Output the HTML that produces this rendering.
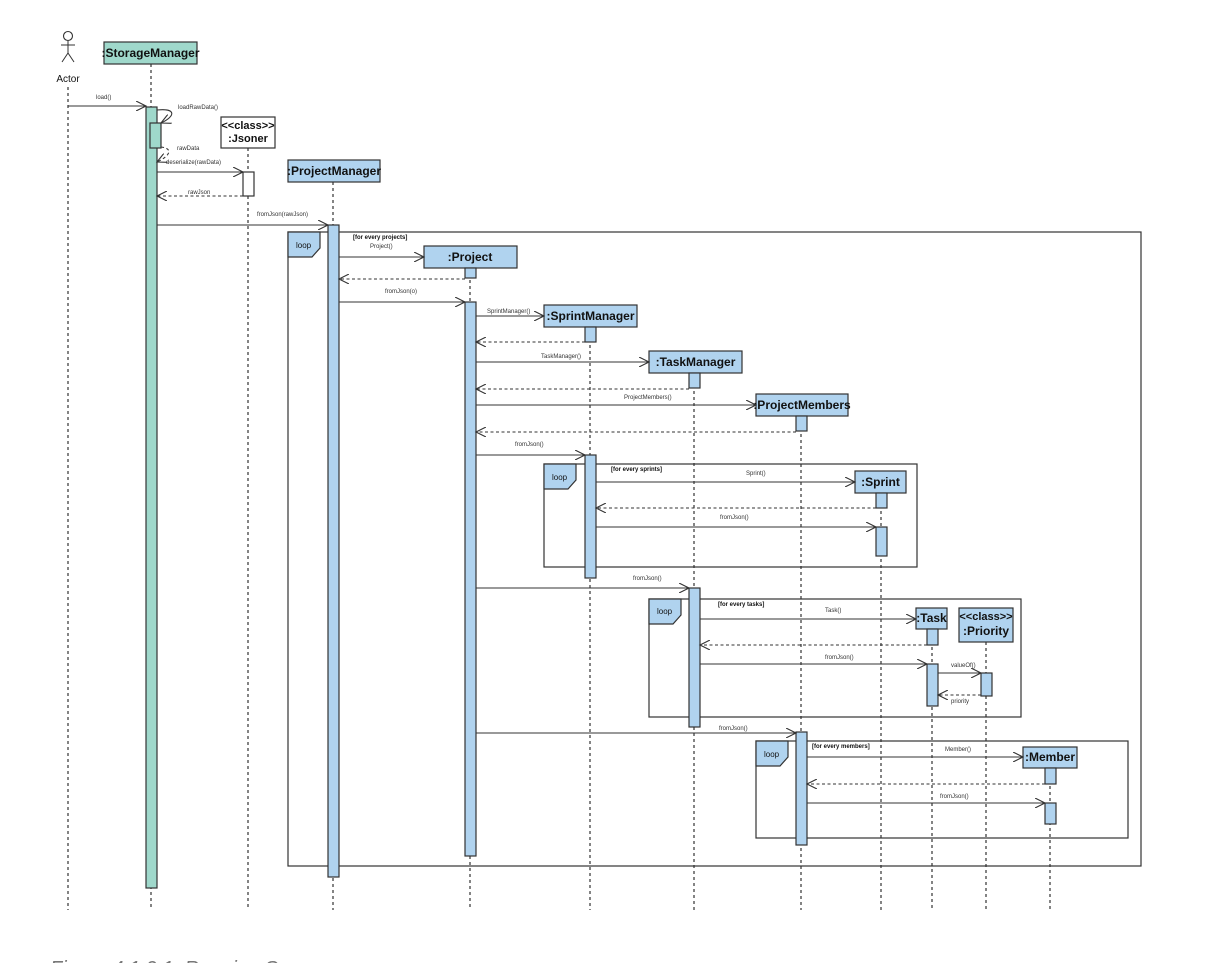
<!DOCTYPE html>
<html><head><meta charset="utf-8"><style>
html,body{margin:0;padding:0;background:#fff;overflow:hidden}
svg{display:block}
text{font-family:"Liberation Sans",Arial,sans-serif;fill:#111}
.t{font-size:6px;fill:#333}
.g{font-size:6px;font-weight:bold}
.h{font-size:12px;font-weight:bold;text-anchor:middle}
.ll{stroke:#333;stroke-width:1.2;stroke-dasharray:3,3;fill:none}
.m{stroke:#333;stroke-width:1.1;fill:none;marker-end:url(#a)}
.r{stroke:#333;stroke-width:1.1;fill:none;stroke-dasharray:3,2.5;marker-end:url(#a)}
.b{fill:#b0d3ef;stroke:#333;stroke-width:1.2}
.gr{fill:#9fd8cb;stroke:#333;stroke-width:1.2}
.f{fill:none;stroke:#333;stroke-width:1.2}
</style></head><body>
<svg width="1210" height="963" viewBox="0 0 1210 963" xmlns="http://www.w3.org/2000/svg">
<defs><marker id="a" markerWidth="12" markerHeight="10" refX="10" refY="5" orient="auto" markerUnits="userSpaceOnUse"><path d="M0,0 L10,5 L0,10" fill="none" stroke="#333" stroke-width="1.1"/></marker></defs>

<!-- lifelines -->
<line class="ll" x1="68" y1="87" x2="68" y2="910"/>
<line class="ll" x1="151" y1="64" x2="151" y2="910"/>
<line class="ll" x1="248" y1="148" x2="248" y2="910"/>
<line class="ll" x1="333" y1="182" x2="333" y2="910"/>
<line class="ll" x1="470" y1="268" x2="470" y2="910"/>
<line class="ll" x1="590" y1="327" x2="590" y2="910"/>
<line class="ll" x1="694" y1="373" x2="694" y2="910"/>
<line class="ll" x1="801" y1="416" x2="801" y2="910"/>
<line class="ll" x1="881" y1="493" x2="881" y2="910"/>
<line class="ll" x1="932" y1="629" x2="932" y2="910"/>
<line class="ll" x1="986" y1="642" x2="986" y2="910"/>
<line class="ll" x1="1050" y1="768" x2="1050" y2="910"/>

<!-- loop frames -->
<rect class="f" x="288" y="232" width="853" height="634"/>
<path d="M288,232 H320 V248 L312,257 H288 Z" class="b"/><text x="296" y="248" style="font-size:8px">loop</text>
<text class="g" x="353" y="239">[for every projects]</text>
<rect class="f" x="544" y="464" width="373" height="103"/>
<path d="M544,464 H576 V480 L568,489 H544 Z" class="b"/><text x="552" y="480" style="font-size:8px">loop</text>
<text class="g" x="611" y="471">[for every sprints]</text>
<rect class="f" x="649" y="599" width="372" height="118"/>
<path d="M649,599 H681 V615 L673,624 H649 Z" class="b"/><text x="657" y="614" style="font-size:8px">loop</text>
<text class="g" x="718" y="606">[for every tasks]</text>
<rect class="f" x="756" y="741" width="372" height="97"/>
<path d="M756,741 H788 V757 L780,766 H756 Z" class="b"/><text x="764" y="757" style="font-size:8px">loop</text>
<text class="g" x="812" y="748">[for every members]</text>

<!-- actor -->
<circle cx="68" cy="36" r="4.5" fill="none" stroke="#333" stroke-width="1.1"/>
<line x1="68" y1="41" x2="68" y2="53" stroke="#333"/>
<line x1="61" y1="45" x2="75" y2="45" stroke="#333"/>
<line x1="68" y1="53" x2="62" y2="62" stroke="#333"/>
<line x1="68" y1="53" x2="74" y2="62" stroke="#333"/>
<text x="68" y="82" style="font-size:10px;text-anchor:middle">Actor</text>

<!-- header boxes -->
<rect class="gr" x="104" y="42" width="93" height="22"/><text class="h" x="150.5" y="57">:StorageManager</text>
<rect x="221" y="117" width="54" height="31" fill="#fff" stroke="#333" stroke-width="1.2"/>
<text class="h" x="248" y="129" style="font-size:11px">&lt;&lt;class&gt;&gt;</text><text class="h" x="248" y="142" style="font-size:11px">:Jsoner</text>
<rect class="b" x="288" y="160" width="92" height="22"/><text class="h" x="334" y="175">:ProjectManager</text>
<rect class="b" x="424" y="246" width="93" height="22"/><text class="h" x="470" y="261">:Project</text>
<rect class="b" x="544" y="305" width="93" height="22"/><text class="h" x="590.5" y="320">:SprintManager</text>
<rect class="b" x="649" y="351" width="93" height="22"/><text class="h" x="695.5" y="366">:TaskManager</text>
<rect class="b" x="756" y="394" width="92" height="22"/><text class="h" x="802" y="409">:ProjectMembers</text>
<rect class="b" x="855" y="471" width="51" height="22"/><text class="h" x="880.5" y="486">:Sprint</text>
<rect class="b" x="916" y="608" width="31" height="21"/><text class="h" x="931.5" y="622">:Task</text>
<rect class="b" x="959" y="608" width="54" height="34"/>
<text class="h" x="986" y="620" style="font-size:11px">&lt;&lt;class&gt;&gt;</text><text class="h" x="986" y="635">:Priority</text>
<rect class="b" x="1023" y="747" width="54" height="21"/><text class="h" x="1050" y="761">:Member</text>

<!-- activations -->
<rect class="gr" x="146" y="107" width="11" height="781"/>
<rect class="gr" x="150" y="123" width="11" height="25"/>
<rect x="243" y="172" width="11" height="24" fill="#fff" stroke="#333" stroke-width="1.2"/>
<rect class="b" x="328" y="225" width="11" height="652"/>
<rect class="b" x="465" y="268" width="11" height="10"/>
<rect class="b" x="465" y="302" width="11" height="554"/>
<rect class="b" x="585" y="327" width="11" height="15"/>
<rect class="b" x="585" y="455" width="11" height="123"/>
<rect class="b" x="689" y="373" width="11" height="15"/>
<rect class="b" x="689" y="588" width="11" height="139"/>
<rect class="b" x="796" y="416" width="11" height="15"/>
<rect class="b" x="796" y="732" width="11" height="113"/>
<rect class="b" x="876" y="493" width="11" height="15"/>
<rect class="b" x="876" y="527" width="11" height="29"/>
<rect class="b" x="927" y="629" width="11" height="16"/>
<rect class="b" x="927" y="664" width="11" height="42"/>
<rect class="b" x="981" y="673" width="11" height="23"/>
<rect class="b" x="1045" y="768" width="11" height="16"/>
<rect class="b" x="1045" y="803" width="11" height="21"/>

<!-- messages -->
<line class="m" x1="68" y1="106" x2="146" y2="106"/><text class="t" x="96" y="99">load()</text>
<path class="m" d="M157,110 C176,108 176,116 161,123"/><text class="t" x="178" y="109">loadRawData()</text>
<path class="r" d="M161,147 C172,148 172,155 157,162"/><text class="t" x="177" y="150">rawData</text>
<line class="m" x1="157" y1="172" x2="243" y2="172"/><text class="t" x="166" y="164">deserialize(rawData)</text>
<line class="r" x1="243" y1="196" x2="157" y2="196"/><text class="t" x="188" y="194">rawJson</text>
<line class="m" x1="157" y1="225" x2="328" y2="225"/><text class="t" x="257" y="216">fromJson(rawJson)</text>
<line class="m" x1="339" y1="257" x2="424" y2="257"/><text class="t" x="370" y="248">Project()</text>
<line class="r" x1="465" y1="279" x2="339" y2="279"/>
<line class="m" x1="339" y1="302" x2="465" y2="302"/><text class="t" x="385" y="293">fromJson(o)</text>
<line class="m" x1="476" y1="316" x2="544" y2="316"/><text class="t" x="487" y="313">SprintManager()</text>
<line class="r" x1="585" y1="342" x2="476" y2="342"/>
<line class="m" x1="476" y1="362" x2="649" y2="362"/><text class="t" x="541" y="358">TaskManager()</text>
<line class="r" x1="689" y1="389" x2="476" y2="389"/>
<line class="m" x1="476" y1="405" x2="756" y2="405"/><text class="t" x="624" y="399">ProjectMembers()</text>
<line class="r" x1="796" y1="432" x2="476" y2="432"/>
<line class="m" x1="476" y1="455" x2="585" y2="455"/><text class="t" x="515" y="446">fromJson()</text>
<line class="m" x1="596" y1="482" x2="855" y2="482"/><text class="t" x="746" y="475">Sprint()</text>
<line class="r" x1="876" y1="508" x2="596" y2="508"/>
<line class="m" x1="596" y1="527" x2="876" y2="527"/><text class="t" x="720" y="519">fromJson()</text>
<line class="m" x1="476" y1="588" x2="689" y2="588"/><text class="t" x="633" y="580">fromJson()</text>
<line class="m" x1="700" y1="619" x2="916" y2="619"/><text class="t" x="825" y="612">Task()</text>
<line class="r" x1="927" y1="645" x2="700" y2="645"/>
<line class="m" x1="700" y1="664" x2="927" y2="664"/><text class="t" x="825" y="659">fromJson()</text>
<line class="m" x1="938" y1="673" x2="981" y2="673"/><text class="t" x="951" y="667">valueOf()</text>
<line class="r" x1="981" y1="695" x2="938" y2="695"/><text class="t" x="951" y="703">priority</text>
<line class="m" x1="476" y1="733" x2="796" y2="733"/><text class="t" x="719" y="730">fromJson()</text>
<line class="m" x1="807" y1="757" x2="1023" y2="757"/><text class="t" x="945" y="751">Member()</text>
<line class="r" x1="1045" y1="784" x2="807" y2="784"/>
<line class="m" x1="807" y1="803" x2="1045" y2="803"/><text class="t" x="940" y="798">fromJson()</text>

<text x="50" y="975" style="font-size:20px;font-style:italic;fill:#777">Figure 4.1.2.1: Running Sequence</text>
</svg>
</body></html>
